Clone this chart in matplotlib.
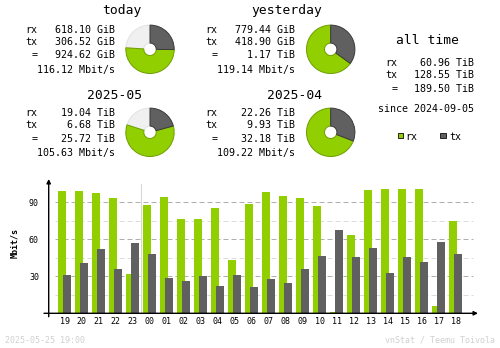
import numpy as np
import matplotlib
matplotlib.use("Agg")
import matplotlib.pyplot as plt
from matplotlib.patches import Wedge, Circle, Rectangle

# traffic summary blocks
block_titles = ["today", "yesterday", "2025-05", "2025-04"]
block_rx = ["618.10 GiB", "779.44 GiB", "19.04 TiB", "22.26 TiB"]
block_tx = ["306.52 GiB", "418.90 GiB", "6.68 TiB", "9.93 TiB"]
block_total = ["924.62 GiB", "1.17 TiB", "25.72 TiB", "32.18 TiB"]
block_rate = ["116.12 Mbit/s", "119.14 Mbit/s", "105.63 Mbit/s", "109.22 Mbit/s"]
# tx share of traffic and filled part of each pie
pie_tx_share = [306.52 / 924.62, 418.90 / 1198.34, 6.68 / 25.72, 9.93 / 32.18]
pie_fill = [0.76, 1.0, 0.80, 1.0]

alltime_rx = "60.96 TiB"
alltime_tx = "128.55 TiB"
alltime_total = "189.50 TiB"
since_date = "2024-09-05"

# hourly averages, Mbit/s
hours = ["19", "20", "21", "22", "23", "00", "01", "02", "03", "04", "05", "06",
         "07", "08", "09", "10", "11", "12", "13", "14", "15", "16", "17", "18"]
hour_rx = [99.2, 99.2, 97.6, 93.5, 31.9, 87.8, 94.3, 76.5, 76.5, 85.4, 43.2, 88.6,
           98.4, 95.1, 93.5, 87.0, 1.1, 63.5, 100.0, 100.8, 100.8, 100.8, 5.9, 74.9]
hour_tx = [31.1, 40.8, 52.2, 35.9, 57.0, 48.1, 28.6, 26.2, 30.3, 22.2, 31.1, 21.4,
           27.8, 24.6, 35.9, 46.5, 67.6, 45.7, 53.0, 32.7, 45.7, 41.6, 57.8, 48.1]
major_ticks = [30, 60, 90]
minor_ticks = [15, 45, 75]

footer_left = "2025-05-25 19:00"
footer_right = "vnStat / Teemu Toivola"

RX = "#92CF00"
TX = "#606060"
MONO = "DejaVu Sans Mono"

W, H = 500, 348
fig = plt.figure(figsize=(W / 100, H / 100), dpi=100)
fig.patch.set_facecolor("white")

# bar chart axes, placed in pixel terms
px_left, px_right, px_base, px_top = 48.7, 478.0, 313.3, 181.3
ymax = 107
ax = fig.add_axes([px_left / W, (H - px_base) / H,
                   (px_right - px_left) / W, (px_base - px_top) / H])
slot = 17.0
ax.set_xlim(0, (px_right - px_left) / slot)
ax.set_ylim(0, ymax)
ax.set_facecolor("none")
for s in ax.spines.values():
    s.set_visible(False)

x = np.arange(len(hours))
gx0 = (55 - px_left) / (px_right - px_left)
gx1 = (473 - px_left) / (px_right - px_left)
for v in minor_ticks:
    ax.axhline(v, gx0, gx1, color="#DCDCDC", lw=0.72, dashes=(5, 3), zorder=1)
for v in major_ticks:
    ax.axhline(v, gx0, gx1, color="#B0B0B0", lw=0.72, dashes=(5, 3), zorder=1)

day_start = hours.index("00")
ax.plot([day_start + 0.45] * 2, [0, 104.5], color="#D8D8D8", lw=0.8, zorder=1)

bw = 8 / slot
ax.bar(x + 0.565, hour_rx, width=bw, align="edge", color=RX, lw=0, zorder=2)
ax.bar(x + 0.84, hour_tx, width=bw, align="edge", color=TX, lw=0, zorder=3)

ax.set_xticks(x + 0.94)
ax.set_xticklabels(hours, family=MONO, fontsize=6)
ax.set_yticks(major_ticks)
ax.set_yticklabels([str(v) for v in major_ticks], family=MONO, fontsize=6)
ax.tick_params(length=0)
ax.tick_params(axis="x", pad=3)
ax.tick_params(axis="y", pad=7)

# overlay in pixel coordinates for text, pies and axis arrows
ov = fig.add_axes([0, 0, 1, 1], zorder=5)
ov.set_xlim(0, W)
ov.set_ylim(H, 0)
ov.axis("off")
ov.patch.set_visible(False)

arrow = dict(arrowstyle="-|>", color="black", lw=1, mutation_scale=6,
             shrinkA=0, shrinkB=0)
ov.annotate("", xy=(px_left, 179), xytext=(px_left, 316.7), arrowprops=arrow)
ov.annotate("", xy=(px_right, px_base), xytext=(44, px_base), arrowprops=arrow)

ov.text(14.5, 243, "Mbit/s", rotation=90, ha="center", va="center",
        family=MONO, fontsize=6, fontweight="bold")

# summary blocks: label column, value right edge, title right edge, pie centre, baselines
layout = [
    (25, 115, 142, (150, 49.3), 14.3, [33.3, 45.3, 58.3, 73.0]),
    (205, 295, 322, (330.7, 49.3), 14.3, [33.3, 45.3, 58.3, 73.0]),
    (25, 115, 142, (150, 132.3), 99.3, [116.0, 128.0, 141.7, 156.3]),
    (205, 295, 322, (330.7, 132.3), 99.3, [116.0, 128.0, 141.7, 156.3]),
]
body = dict(family=MONO, fontsize=7.2, va="baseline")
r_out, r_in = 24.2, 6.2
for i, (lx, vx, tx_, (cx, cy), ty, rows) in enumerate(layout):
    ov.text(tx_, ty, block_titles[i], ha="right", family=MONO, fontsize=9.4,
            va="baseline")
    ov.text(lx, rows[0], "rx", ha="left", **body)
    ov.text(lx, rows[1], "tx", ha="left", **body)
    ov.text(lx + 7, rows[2], "=", ha="left", **body)
    ov.text(vx, rows[0], block_rx[i], ha="right", **body)
    ov.text(vx, rows[1], block_tx[i], ha="right", **body)
    ov.text(vx, rows[2], block_total[i], ha="right", **body)
    ov.text(vx, rows[3], block_rate[i], ha="right", **body)

    # y axis of the overlay points down, so angles run clockwise from 12 o'clock
    a_tx = 360 * pie_fill[i] * pie_tx_share[i]
    a_all = 360 * pie_fill[i]
    ov.add_patch(Wedge((cx, cy), r_out, -90 + a_all, 270, width=r_out - r_in,
                       facecolor="#F0F0F0", edgecolor="#E2E2E2", lw=0.7))
    ov.add_patch(Wedge((cx, cy), r_out, -90 + a_tx, -90 + a_all,
                       width=r_out - r_in, facecolor=RX, edgecolor="#6E9E00",
                       lw=0.7))
    ov.add_patch(Wedge((cx, cy), r_out, -90, -90 + a_tx, width=r_out - r_in,
                       facecolor=TX, edgecolor="#3A3A3A", lw=0.7))

# all time block
ov.text(428, 44, "all time", ha="center", family=MONO, fontsize=9.4,
        va="baseline")
ov.text(385, 66, "rx", ha="left", **body)
ov.text(385, 78, "tx", ha="left", **body)
ov.text(392, 91.7, "=", ha="left", **body)
ov.text(474, 66, alltime_rx, ha="right", **body)
ov.text(474, 78, alltime_tx, ha="right", **body)
ov.text(474, 91.7, alltime_total, ha="right", **body)
ov.text(474, 112, "since " + since_date, ha="right", **body)

ov.add_patch(Rectangle((397.5, 132.5), 5.5, 5.5, facecolor=RX,
                       edgecolor="#222222", lw=0.7))
ov.text(405, 140, "rx", ha="left", **body)
ov.add_patch(Rectangle((440, 132.5), 5.5, 5.5, facecolor=TX,
                       edgecolor="#222222", lw=0.7))
ov.text(449, 140, "tx", ha="left", **body)

ov.text(5, 342.7, footer_left, ha="left", va="baseline", family=MONO,
        fontsize=6, color="#D0D0D0")
ov.text(495, 342.7, footer_right, ha="right", va="baseline", family=MONO,
        fontsize=6, color="#D0D0D0")

fig.savefig("out.png", dpi=100, facecolor="white")
